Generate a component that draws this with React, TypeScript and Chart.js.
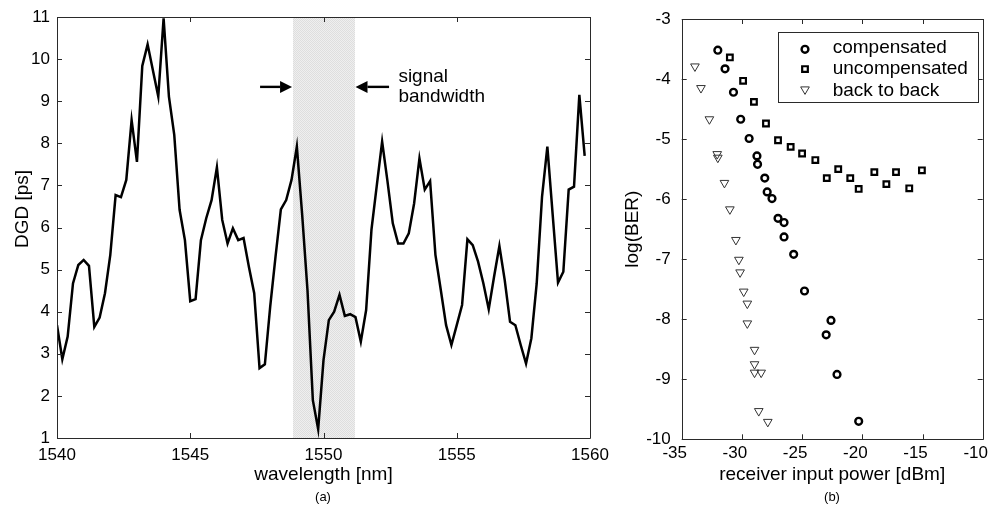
import React, { useEffect, useRef } from 'react';
import { Chart, registerables } from 'chart.js';

Chart.register(...registerables);

const FONT = '"Liberation Sans", Arial, Helvetica, sans-serif';

// ---------- (a) DGD vs wavelength ----------
const wavelengths = [
  1540.0, 1540.2, 1540.4, 1540.6, 1540.8, 1541.0, 1541.2, 1541.4, 1541.6, 1541.8,
  1542.0, 1542.2, 1542.4, 1542.6, 1542.8, 1543.0, 1543.2, 1543.4, 1543.6, 1543.8,
  1544.0, 1544.2, 1544.4, 1544.6, 1544.8, 1545.0, 1545.2, 1545.4, 1545.6, 1545.8,
  1546.0, 1546.2, 1546.4, 1546.6, 1546.8, 1547.0, 1547.2, 1547.4, 1547.6, 1547.8,
  1548.0, 1548.2, 1548.4, 1548.6, 1548.8, 1549.0, 1549.2, 1549.4, 1549.6, 1549.8,
  1550.0, 1550.2, 1550.4, 1550.6, 1550.8, 1551.0, 1551.2, 1551.4, 1551.6, 1551.8,
  1552.0, 1552.2, 1552.4, 1552.6, 1552.8, 1553.0, 1553.2, 1553.4, 1553.6, 1553.8,
  1554.0, 1554.2, 1554.4, 1554.6, 1554.8, 1555.0, 1555.2, 1555.4, 1555.6, 1555.8,
  1556.0, 1556.2, 1556.4, 1556.6, 1556.8, 1557.0, 1557.2, 1557.4, 1557.6, 1557.8,
  1558.0, 1558.2, 1558.4, 1558.6, 1558.8, 1559.0, 1559.2, 1559.4, 1559.6, 1559.8,
];
const dgd = [
  3.68, 2.87, 3.41, 4.67, 5.11, 5.23, 5.09, 3.64, 3.86, 4.44,
  5.35, 6.77, 6.72, 7.13, 8.55, 7.56, 9.84, 10.35, 9.73, 9.11,
  10.97, 9.11, 8.2, 6.42, 5.7, 4.25, 4.3, 5.7, 6.22, 6.65,
  7.43, 6.18, 5.62, 5.98, 5.7, 5.75, 5.07, 4.44, 2.66, 2.75,
  4.12, 5.31, 6.43, 6.65, 7.13, 7.92, 6.3, 4.5, 1.9, 1.21,
  2.85, 3.8, 4.0, 4.4, 3.9, 3.94, 3.87, 3.29, 4.04, 5.95,
  7.0, 8.04, 7.1, 6.1, 5.62, 5.62, 5.86, 6.57, 7.64, 6.9,
  7.1, 5.35, 4.52, 3.68, 3.21, 3.68, 4.16, 5.72, 5.58, 5.19,
  4.67, 4.06, 4.83, 5.56, 4.75, 3.76, 3.68, 3.21, 2.77, 3.37,
  4.67, 6.73, 7.92, 6.3, 4.69, 4.95, 6.9, 6.97, 9.15, 7.7,
];
const xTicksA = [1540, 1545, 1550, 1555, 1560];
const yTicksA = [1, 2, 3, 4, 5, 6, 7, 8, 9, 10, 11];
const bandEdges = [1548.85, 1551.18];
const arrowLevel = 9.34;
const leftArrow = [1547.62, 1548.82];
const rightArrow = [1552.46, 1551.2];
const bandText = ['signal', 'bandwidth'];
const bandTextX = 1552.81;
const bandTextY = [9.58, 9.11];

// ---------- (b) log(BER) vs receiver input power ----------
const compX = [-32.0, -31.4, -30.7, -30.1, -29.4, -28.75, -28.7, -28.1, -27.9, -27.5, -27.0, -26.5, -26.5, -25.7, -24.8, -22.6, -23.0, -22.1, -20.3];
const compY = [-3.52, -3.83, -4.22, -4.67, -4.99, -5.28, -5.42, -5.65, -5.88, -5.99, -6.32, -6.39, -6.63, -6.92, -7.53, -8.02, -8.26, -8.92, -9.7];
const uncX = [-31.0, -29.9, -29.0, -28.0, -27.0, -25.95, -25.0, -23.9, -22.95, -22.0, -21.0, -20.3, -19.0, -18.0, -17.2, -16.1, -15.05];
const uncY = [-3.64, -4.03, -4.38, -4.74, -5.02, -5.13, -5.24, -5.35, -5.65, -5.5, -5.65, -5.83, -5.55, -5.75, -5.55, -5.82, -5.52];
const b2bX = [-33.9, -33.4, -32.7, -32.05, -32.0, -31.45, -31.0, -30.5, -30.25, -30.15, -29.85, -29.55, -29.55, -28.95, -28.95, -28.95, -28.4, -28.6, -27.85];
const b2bY = [-3.79, -4.15, -4.67, -5.25, -5.31, -5.73, -6.17, -6.68, -7.01, -7.22, -7.54, -7.74, -8.07, -8.51, -8.75, -8.89, -8.89, -9.53, -9.71];
const seriesNames = ['compensated', 'uncompensated', 'back to back'];
const xTicksB = [-35, -30, -25, -20, -15, -10];
const yTicksB = [-10, -9, -8, -7, -6, -5, -4, -3];

const pts = (xs: number[], ys: number[]) => xs.map((x, i) => ({ x, y: ys[i] }));

const framePlugin = {
  id: 'frameTicks',
  afterDraw(chart: any) {
    const { ctx, chartArea: a, scales } = chart;
    const len = 5;
    ctx.save();
    ctx.strokeStyle = '#2a2a2a';
    ctx.lineWidth = 1;
    ctx.beginPath();
    ctx.rect(Math.round(a.left) + 0.5, Math.round(a.top) + 0.5, Math.round(a.right - a.left), Math.round(a.bottom - a.top));
    for (const t of scales.x.ticks) {
      const px = Math.round(scales.x.getPixelForValue(t.value)) + 0.5;
      ctx.moveTo(px, a.bottom); ctx.lineTo(px, a.bottom - len);
      ctx.moveTo(px, a.top); ctx.lineTo(px, a.top + len);
    }
    for (const t of scales.y.ticks) {
      const py = Math.round(scales.y.getPixelForValue(t.value)) + 0.5;
      ctx.moveTo(a.left, py); ctx.lineTo(a.left + len, py);
      ctx.moveTo(a.right, py); ctx.lineTo(a.right - len, py);
    }
    ctx.stroke();
    ctx.restore();
  },
};

const makeDither = (ctx: CanvasRenderingContext2D) => {
  const c = document.createElement('canvas');
  c.width = 2; c.height = 2;
  const g = c.getContext('2d') as CanvasRenderingContext2D;
  g.fillStyle = '#efefef'; g.fillRect(0, 0, 2, 2);
  g.fillStyle = '#dedede'; g.fillRect(0, 0, 1, 1); g.fillRect(1, 1, 1, 1);
  return ctx.createPattern(c, 'repeat') || '#e6e6e6';
};

const bandPlugin = {
  id: 'band',
  beforeDatasetsDraw(chart: any) {
    const { ctx, chartArea: a, scales } = chart;
    const x0 = scales.x.getPixelForValue(bandEdges[0]);
    const x1 = scales.x.getPixelForValue(bandEdges[1]);
    ctx.save();
    ctx.fillStyle = makeDither(ctx);
    ctx.fillRect(Math.round(x0), Math.round(a.top) + 1, Math.round(x1 - x0), Math.round(a.bottom - a.top) - 1);
    ctx.restore();
  },
  afterDatasetsDraw(chart: any) {
    const { ctx, scales } = chart;
    const y = scales.y.getPixelForValue(arrowLevel);
    const arrow = (from: number, to: number) => {
      const xf = scales.x.getPixelForValue(from);
      const xt = scales.x.getPixelForValue(to);
      const dir = Math.sign(xt - xf);
      const head = 12;
      ctx.beginPath();
      ctx.moveTo(xf, y);
      ctx.lineTo(xt - dir * head, y);
      ctx.stroke();
      ctx.beginPath();
      ctx.moveTo(xt, y);
      ctx.lineTo(xt - dir * head, y - 6);
      ctx.lineTo(xt - dir * head, y + 6);
      ctx.closePath();
      ctx.fill();
    };
    ctx.save();
    ctx.strokeStyle = '#000';
    ctx.fillStyle = '#000';
    ctx.lineWidth = 2.4;
    arrow(leftArrow[0], leftArrow[1]);
    arrow(rightArrow[0], rightArrow[1]);
    ctx.font = `19px ${FONT}`;
    ctx.textAlign = 'left';
    ctx.textBaseline = 'middle';
    const tx = scales.x.getPixelForValue(bandTextX);
    bandText.forEach((t, i) => ctx.fillText(t, tx, scales.y.getPixelForValue(bandTextY[i])));
    ctx.restore();
  },
  afterDraw(chart: any) {
    const { ctx } = chart;
    ctx.save();
    ctx.translate(23, 209);
    ctx.rotate(-Math.PI / 2);
    ctx.font = `19px ${FONT}`;
    ctx.fillStyle = '#000';
    ctx.textAlign = 'center';
    ctx.textBaseline = 'middle';
    ctx.fillText('DGD [ps]', 0, 0);
    ctx.restore();
  },
};

const legendPlugin = {
  id: 'boxLegend',
  afterDraw(chart: any) {
    const { ctx, chartArea: a } = chart;
    const w = 200, h = 70;
    const right = a.right - 4.4;
    const top = a.top + 13.3;
    const left = right - w;
    ctx.save();
    ctx.fillStyle = '#fff';
    ctx.fillRect(left, top, w, h);
    ctx.strokeStyle = '#2a2a2a';
    ctx.lineWidth = 1;
    ctx.strokeRect(Math.round(left) + 0.5, Math.round(top) + 0.5, w, h);
    chart.data.datasets.forEach((ds: any, i: number) => {
      const cy = top + 15.5 + i * 21.3;
      const mx = left + 26.7;
      ctx.strokeStyle = ds.borderColor;
      ctx.lineWidth = ds.borderWidth;
      ctx.beginPath();
      const r = ds.pointRadius;
      if (ds.pointStyle === 'circle') {
        ctx.arc(mx, cy + 1.5, r, 0, Math.PI * 2);
      } else if (ds.pointStyle === 'rect') {
        const s = r * Math.SQRT1_2;
        ctx.rect(mx - s, cy - s, 2 * s, 2 * s);
      } else {
        const c = cy - 1;
        for (let k = 0; k < 3; k++) {
          const ang = Math.PI + (k * 2 * Math.PI) / 3;
          const px = mx + Math.sin(ang) * r;
          const py = c - Math.cos(ang) * r;
          if (k === 0) ctx.moveTo(px, py); else ctx.lineTo(px, py);
        }
        ctx.closePath();
      }
      ctx.stroke();
      ctx.fillStyle = '#000';
      ctx.font = `19px ${FONT}`;
      ctx.textAlign = 'left';
      ctx.textBaseline = 'middle';
      ctx.fillText(ds.label, left + 54.4, cy);
    });
    ctx.restore();
  },
};

const axisBase = (ticks: number[]) => ({
  type: 'linear' as const,
  min: ticks[0],
  max: ticks[ticks.length - 1],
  afterBuildTicks: (s: any) => { s.ticks = ticks.map((v) => ({ value: v })); },
  grid: { display: false, drawTicks: false },
  border: { display: false },
});

export default function App() {
  const leftRef = useRef<HTMLCanvasElement>(null);
  const rightRef = useRef<HTMLCanvasElement>(null);

  useEffect(() => {
    Chart.defaults.font.family = FONT;
    Chart.defaults.color = '#000';

    const left = new Chart(leftRef.current as HTMLCanvasElement, {
      type: 'line',
      data: {
        datasets: [{
          data: pts(wavelengths, dgd),
          borderColor: '#000',
          borderWidth: 2.5,
          pointRadius: 0,
          tension: 0,
          fill: false,
        }],
      },
      options: {
        responsive: false,
        animation: false,
        events: [],
        layout: { padding: { left: 0, right: 30, top: 17, bottom: 0 } },
        plugins: { legend: { display: false }, tooltip: { enabled: false } },
        scales: {
          x: {
            ...axisBase(xTicksA),
            afterFit: (s: any) => { s.height = 87; s.paddingLeft = 0; s.paddingRight = 0; },
            ticks: { padding: 7, font: { size: 17 }, color: '#000', autoSkip: false, maxRotation: 0, callback: (v: any) => String(v) },
            title: { display: true, text: 'wavelength [nm]', font: { size: 19 }, color: '#000', padding: { top: 0, bottom: 39 } },
          },
          y: {
            ...axisBase(yTicksA),
            afterFit: (s: any) => { s.width = 57; s.paddingTop = 0; s.paddingBottom = 0; },
            ticks: { padding: 7, font: { size: 17 }, color: '#000', autoSkip: false, callback: (v: any) => String(v) },
          },
        },
      } as any,
      plugins: [bandPlugin, framePlugin],
    });

    const right = new Chart(rightRef.current as HTMLCanvasElement, {
      type: 'scatter',
      data: {
        datasets: [
          { label: seriesNames[0], data: pts(compX, compY), pointStyle: 'circle', pointRadius: 3.4, borderWidth: 2.4, borderColor: '#000', backgroundColor: 'rgba(0,0,0,0)' },
          { label: seriesNames[1], data: pts(uncX, uncY), pointStyle: 'rect', pointRadius: 4, borderWidth: 2.2, borderColor: '#000', backgroundColor: 'rgba(0,0,0,0)' },
          { label: seriesNames[2], data: pts(b2bX, b2bY), pointStyle: 'triangle', pointRotation: 180, pointRadius: 5, borderWidth: 1, borderColor: '#333', backgroundColor: 'rgba(0,0,0,0)' },
        ],
      },
      options: {
        responsive: false,
        animation: false,
        events: [],
        layout: { padding: { left: 0, right: 8.3, top: 19, bottom: 0 } },
        plugins: { legend: { display: false }, tooltip: { enabled: false } },
        scales: {
          x: {
            ...axisBase(xTicksB),
            afterFit: (s: any) => { s.height = 85.7; s.paddingLeft = 0; s.paddingRight = 0; },
            ticks: { padding: 4, labelOffset: -7, font: { size: 17 }, color: '#000', autoSkip: false, maxRotation: 0, callback: (v: any) => String(v) },
            title: { display: true, text: 'receiver input power [dBm]', font: { size: 19 }, color: '#000', padding: { top: 0, bottom: 39 } },
          },
          y: {
            ...axisBase(yTicksB),
            afterFit: (s: any) => { s.width = 61.7; s.paddingTop = 0; s.paddingBottom = 0; },
            ticks: { padding: 11, font: { size: 17 }, color: '#000', autoSkip: false, callback: (v: any) => String(v) },
            title: { display: true, text: 'log(BER)', font: { size: 19 }, color: '#000', padding: { top: 1, bottom: 0 } },
          },
        },
      } as any,
      plugins: [framePlugin, legendPlugin],
    });

    return () => { left.destroy(); right.destroy(); };
  }, []);

  return (
    <div style={{ position: 'absolute', left: 0, top: 0, width: 991, height: 525, background: '#fff', fontFamily: FONT, overflow: 'hidden' }}>
      <canvas ref={leftRef} width={620} height={525} style={{ position: 'absolute', left: 0, top: 0, width: 620, height: 525 }} />
      <canvas ref={rightRef} width={371} height={525} style={{ position: 'absolute', left: 620, top: 0, width: 371, height: 525 }} />
      <div style={{ position: 'absolute', left: 0, width: 646, top: 490, textAlign: 'center', fontSize: 13, lineHeight: '14px', color: '#000' }}>(a)</div>
      <div style={{ position: 'absolute', left: 682, width: 300, top: 490, textAlign: 'center', fontSize: 13, lineHeight: '14px', color: '#000' }}>(b)</div>
    </div>
  );
}
